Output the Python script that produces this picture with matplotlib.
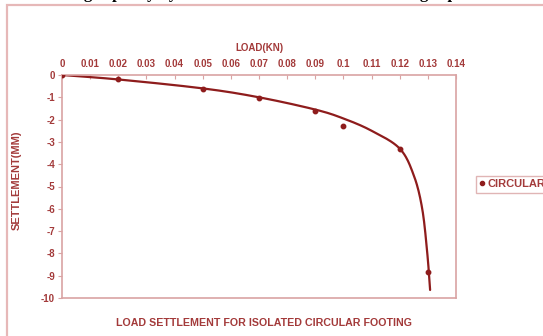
import numpy as np
import matplotlib
matplotlib.use("Agg")
import matplotlib.pyplot as plt
from matplotlib.patches import Rectangle
from matplotlib.lines import Line2D

plt.rcParams['font.family'] = ['Liberation Sans', 'DejaVu Sans']

# measured data (markers)
load = [0.0, 0.02, 0.05, 0.07, 0.09, 0.10, 0.12, 0.13]
settlement = [0.0, -0.18, -0.63, -1.04, -1.6, -2.27, -3.33, -8.82]

# smooth trend curve
curve_load = [0.0, 0.02, 0.05, 0.07, 0.09, 0.10, 0.11, 0.12, 0.125, 0.128, 0.1298, 0.1308]
curve_settle = [0.0, -0.2, -0.6, -1.0, -1.55, -1.95, -2.5, -3.3, -4.5, -6.0, -8.0, -9.64]

x_ticks = [0, 0.01, 0.02, 0.03, 0.04, 0.05, 0.06, 0.07, 0.08, 0.09, 0.1, 0.11, 0.12, 0.13, 0.14]
x_tick_labels = ["0", "0.01", "0.02", "0.03", "0.04", "0.05", "0.06", "0.07", "0.08", "0.09",
                 "0.1", "0.11", "0.12", "0.13", "0.14"]
y_ticks = list(range(0, -11, -1))

DARK = "#8e1c1c"
LABEL = "#a33a3a"
SPINE = "#d9a3a3"


def catmull_rom(xs, ys, n=20):
    P = np.column_stack([xs, ys]).astype(float)
    sx = np.ptp(P[:, 0]); sy = np.ptp(P[:, 1])
    Q = P / [sx, sy]
    Q = np.vstack([2 * Q[0] - Q[1], Q, 2 * Q[-1] - Q[-2]])
    out = []
    for i in range(1, len(Q) - 2):
        p0, p1, p2, p3 = Q[i - 1], Q[i], Q[i + 1], Q[i + 2]
        t = np.linspace(0, 1, n, endpoint=False)[:, None]
        seg = 0.5 * ((2 * p1) + (-p0 + p2) * t + (2 * p0 - 5 * p1 + 4 * p2 - p3) * t ** 2
                     + (-p0 + 3 * p1 - 3 * p2 + p3) * t ** 3)
        out.append(seg)
    out.append(Q[-2][None, :])
    R = np.vstack(out) * [sx, sy]
    return R[:, 0], R[:, 1]


fig = plt.figure(figsize=(5.43, 3.36), dpi=100)
ax = fig.add_axes([62 / 543, 1 - 298 / 336, (456 - 62) / 543, (298 - 75) / 336])

cx, cy = catmull_rom(curve_load, curve_settle)
ax.plot(cx, cy, color=DARK, lw=1.6, solid_capstyle='round', zorder=2)
ax.plot(load, settlement, 'o', color=DARK, ms=3.2, zorder=3)

ax.set_xlim(0, 0.14)
ax.set_ylim(-10, 0)
ax.xaxis.tick_top()
ax.xaxis.set_label_position('top')
ax.set_xticks(x_ticks)
ax.set_xticklabels(x_tick_labels)
ax.set_yticks(y_ticks)
ax.set_yticklabels([str(v) for v in y_ticks])
ax.tick_params(axis='x', direction='in', length=3, color=SPINE, labelsize=7,
               labelcolor=LABEL, pad=4)
ax.tick_params(axis='y', direction='out', length=3, color=SPINE, labelsize=7,
               labelcolor=LABEL, pad=2)
for lab in ax.get_xticklabels() + ax.get_yticklabels():
    lab.set_fontweight('bold')
for s in ax.spines.values():
    s.set_color(SPINE)
    s.set_linewidth(1.2)

ax.set_xlabel("LOAD(KN)", fontsize=7, fontweight='bold', color=LABEL, labelpad=6)

fig.text(17 / 543, 1 - 180 / 336, "SETTLEMENT(MM)", rotation=90, ha='center', va='center',
         fontsize=8, fontweight='bold', color=LABEL)

fig.text(264 / 543, 1 - 323 / 336, "LOAD SETTLEMENT FOR ISOLATED CIRCULAR FOOTING",
         ha='center', va='center', fontsize=7.7, fontweight='bold', color=LABEL)

# legend
handle = Line2D([], [], marker='o', ls='none', color=DARK, ms=3)
fig.legend([handle], ["CIRCULAR"], loc='upper left', bbox_to_anchor=(476 / 543, 1 - 176 / 336),
           frameon=True, handlelength=0.5, handletextpad=0.2,
           borderpad=0.3, borderaxespad=0, fancybox=False, edgecolor=SPINE,
           labelcolor=LABEL, prop={'weight': 'bold', 'size': 8})

# outer frame
fig.patches.append(Rectangle((7 / 543, -0.1), 1.2, 1 - 5 / 336 + 0.1, transform=fig.transFigure,
                             fill=False, edgecolor="#e6b8b8", lw=1.6))

# clipped heading text from the page above (only descenders visible)
fig.text(0.07, 1 + 2.5 / 336, "bearing capacity by the load test on the circular footing is p",
         ha='left', va='baseline', fontsize=12, fontweight='bold', family='Liberation Serif',
         color='black')

fig.savefig("out.png", dpi=100)
